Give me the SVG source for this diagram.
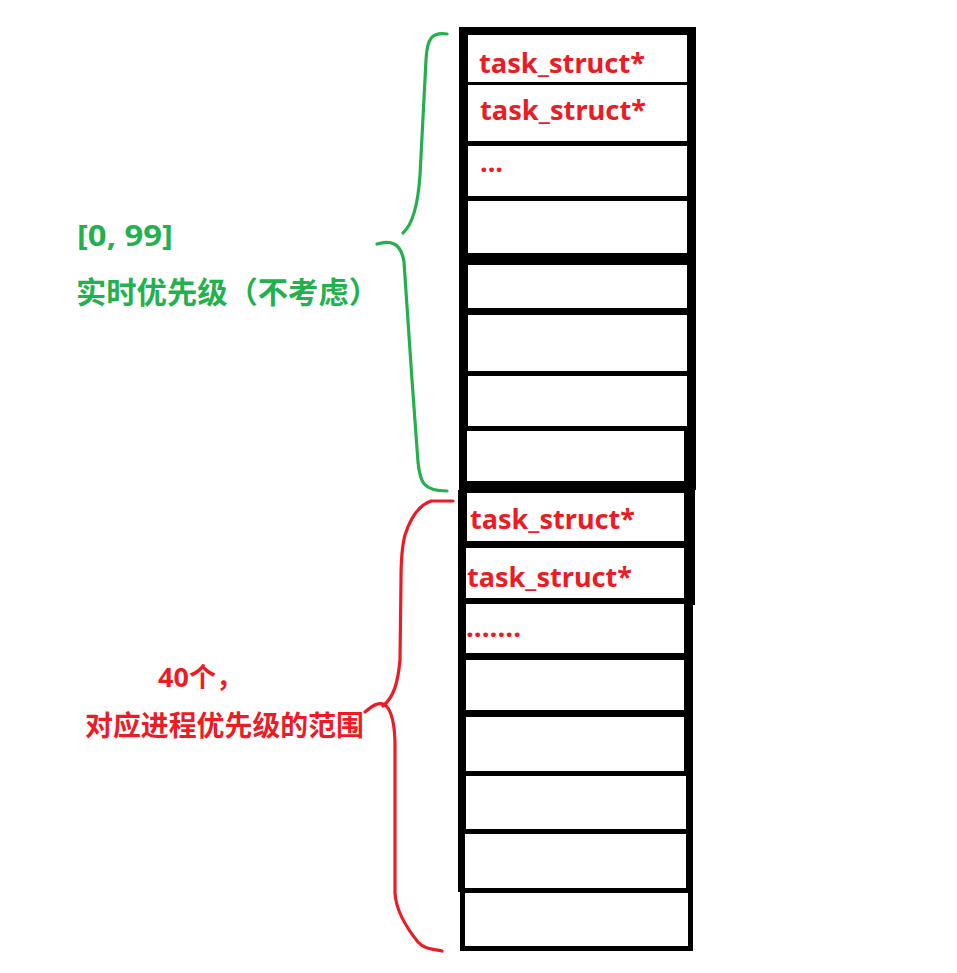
<svg xmlns="http://www.w3.org/2000/svg" width="957" height="973" viewBox="0 0 957 973">
<style>
.cell{fill:#fff}
.t{font-family:"Noto Sans","Noto Sans CJK SC",sans-serif;font-weight:bold;fill:#ED1C24;font-size:27px}
.g{font-family:"Noto Sans","Noto Sans CJK SC",sans-serif;font-weight:bold;fill:#22B14C}
.r{font-family:"Noto Sans","Noto Sans CJK SC",sans-serif;font-weight:bold;fill:#ED1C24}
.brace{fill:none;stroke-width:3.2;stroke-linecap:round;stroke-linejoin:round}
</style>
<rect width="957" height="973" fill="#fff"/>
<g id="column">
<path d="M459,27 H696 V490 H695 V605 H693 V951 H460 V892 H458 V490 H459 Z" fill="#000"/>
</g>
<g id="cell1"><rect class="cell" x="468" y="35" width="219" height="47"/><text class="t" x="479" y="73" textLength="166" lengthAdjust="spacingAndGlyphs">task_struct*</text></g>
<g id="cell2"><rect class="cell" x="468" y="85" width="219" height="56"/><text class="t" x="480" y="120" textLength="166" lengthAdjust="spacingAndGlyphs">task_struct*</text></g>
<g id="cell3"><rect class="cell" x="468" y="146" width="219" height="50"/><text class="t" x="480" y="172" textLength="23" lengthAdjust="spacingAndGlyphs">...</text></g>
<g id="cell4"><rect class="cell" x="468" y="201" width="219" height="52"/></g>
<g id="cell5"><rect class="cell" x="468" y="265" width="219" height="43"/></g>
<g id="cell6"><rect class="cell" x="468" y="315" width="219" height="56"/></g>
<g id="cell7"><rect class="cell" x="468" y="376" width="219" height="50"/></g>
<g id="cell8"><rect class="cell" x="467" y="431" width="217" height="50"/></g>
<g id="cell9"><rect class="cell" x="467" y="493" width="217" height="48"/><text class="t" x="470" y="529" textLength="165" lengthAdjust="spacingAndGlyphs">task_struct*</text></g>
<g id="cell10"><rect class="cell" x="466" y="548" width="218" height="50"/><text class="t" x="467" y="587" textLength="165" lengthAdjust="spacingAndGlyphs">task_struct*</text></g>
<g id="cell11"><rect class="cell" x="466" y="604" width="218" height="49"/><text class="t" x="466" y="637" textLength="55" lengthAdjust="spacingAndGlyphs">.......</text></g>
<g id="cell12"><rect class="cell" x="466" y="660" width="218" height="50"/></g>
<g id="cell13"><rect class="cell" x="466" y="717" width="218" height="54"/></g>
<g id="cell14"><rect class="cell" x="466" y="776" width="220" height="53"/></g>
<g id="cell15"><rect class="cell" x="465" y="834" width="221" height="54"/></g>
<g id="cell16"><rect class="cell" x="465" y="893" width="223" height="53"/></g>
<g id="connectors">
<path class="brace" stroke="#22B14C" d="M447,34 C432,32 427,38 426,60 L420,175 C418,205 413,224 403,233 M377,244 C390,240 401,242 404,262 L412,380 L418,462 C420,482 423,491 447,491"/>
<path class="brace" stroke="#ED1C24" d="M453,501 L431,501 C420,505 411,516 405,535 C402,546 401,560 401,580 L400,660 C398,682 394,697 383,706 M365,712 C372,706 381,699 388,708 C393,716 395,730 395,746 L395,893 C396,910 405,926 418,942 C425,950 434,949 442,951"/>
</g>
<g id="label-rt">
<text class="g" x="77" y="246" font-size="28" textLength="96" lengthAdjust="spacingAndGlyphs">[0, 99]</text>
<text class="g" x="76" y="303" font-size="30" textLength="303" lengthAdjust="spacingAndGlyphs">实时优先级（不考虑）</text>
</g>
<g id="label-normal">
<text class="r" x="158" y="687" font-size="27">40个，</text>
<text class="r" x="85" y="736" font-size="28" textLength="279" lengthAdjust="spacingAndGlyphs">对应进程优先级的范围</text>
</g>
</svg>
